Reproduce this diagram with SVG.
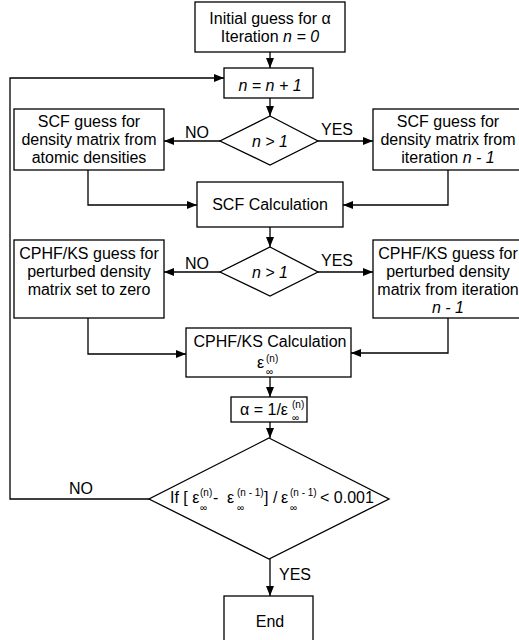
<svg xmlns="http://www.w3.org/2000/svg" width="519" height="640" viewBox="0 0 519 640">
<style>
.b{fill:#fff;stroke:#000;stroke-width:1.3}
.c{fill:none;stroke:#000;stroke-width:1.3}
text{font-family:"Liberation Sans",Arial,sans-serif;font-size:16px;fill:#000}
.m{text-anchor:middle}
.i{font-style:italic}
.s{font-size:10px}
</style>
<defs>
<marker id="a" markerUnits="userSpaceOnUse" markerWidth="10" markerHeight="10" viewBox="0 0 10 10" refX="10" refY="5" orient="auto">
<path d="M0,1 L10,5 L0,9 Z" fill="#000"/>
</marker>
</defs>
<rect width="519" height="640" fill="#fff"/>
<g id="connectors">
<path class="c" d="M270,52 V68" marker-end="url(#a)"/>
<path class="c" d="M270,98 V116" marker-end="url(#a)"/>
<path class="c" d="M220,141 H164" marker-end="url(#a)"/>
<path class="c" d="M318,141 H373" marker-end="url(#a)"/>
<path class="c" d="M88,170 V205 H197" marker-end="url(#a)"/>
<path class="c" d="M448,170 V205 H343" marker-end="url(#a)"/>
<path class="c" d="M270,227 V247" marker-end="url(#a)"/>
<path class="c" d="M220,272 H164" marker-end="url(#a)"/>
<path class="c" d="M318,272 H373" marker-end="url(#a)"/>
<path class="c" d="M88,318 V354 H186" marker-end="url(#a)"/>
<path class="c" d="M448,318 V353 H351" marker-end="url(#a)"/>
<path class="c" d="M270,377 V397" marker-end="url(#a)"/>
<path class="c" d="M270,422 V438" marker-end="url(#a)"/>
<path class="c" d="M149,499 H10 V78 H224" marker-end="url(#a)"/>
<path class="c" d="M270,559 V596" marker-end="url(#a)"/>
<text x="197" y="138" class="m">NO</text>
<text x="337" y="135" class="m">YES</text>
<text x="197" y="269" class="m">NO</text>
<text x="337" y="266" class="m">YES</text>
<text x="81" y="494" class="m">NO</text>
<text x="295" y="580" class="m">YES</text>
</g>
<g id="start">
<rect class="b" x="195" y="2" width="150" height="50"/>
<text x="270" y="24" class="m">Initial guess for α</text>
<text x="270" y="42" class="m">Iteration <tspan class="i">n = 0</tspan></text>
</g>
<g id="increment">
<rect class="b" x="224" y="68" width="89" height="30"/>
<text x="270" y="91" class="m i">n = n + 1</text>
</g>
<g id="decision1">
<path class="b" d="M270,116 L318,141 L270,165 L220,141 Z"/>
<text x="270" y="147" class="m i">n &gt; 1</text>
</g>
<g id="scf-guess-atomic">
<rect class="b" x="14" y="109" width="150" height="61"/>
<text x="89" y="127" class="m">SCF guess for</text>
<text x="89" y="145" class="m">density matrix from</text>
<text x="89" y="163" class="m">atomic densities</text>
</g>
<g id="scf-guess-iter">
<rect class="b" x="373" y="109" width="150" height="61"/>
<text x="448" y="127" class="m">SCF guess for</text>
<text x="448" y="145" class="m">density matrix from</text>
<text x="448" y="163" class="m">iteration <tspan class="i">n - 1</tspan></text>
</g>
<g id="scf-calc">
<rect class="b" x="197" y="182" width="146" height="45"/>
<text x="270" y="210" class="m">SCF Calculation</text>
</g>
<g id="decision2">
<path class="b" d="M270,247 L318,272 L270,296 L220,272 Z"/>
<text x="270" y="278" class="m i">n &gt; 1</text>
</g>
<g id="cphf-guess-zero">
<rect class="b" x="14" y="240" width="150" height="78"/>
<text x="89" y="259" class="m">CPHF/KS guess for</text>
<text x="89" y="277" class="m">perturbed density</text>
<text x="89" y="295" class="m">matrix set to zero</text>
</g>
<g id="cphf-guess-iter">
<rect class="b" x="373" y="240" width="150" height="78"/>
<text x="448" y="259" class="m">CPHF/KS guess for</text>
<text x="448" y="277" class="m">perturbed density</text>
<text x="448" y="295" class="m">matrix from iteration</text>
<text x="448" y="313" class="m i">n - 1</text>
</g>
<g id="cphf-calc">
<rect class="b" x="186" y="328" width="165" height="49"/>
<text x="270" y="347" class="m">CPHF/KS Calculation</text>
<text x="257" y="368">ε</text>
<text x="266" y="362" class="s">(n)</text>
<text x="266" y="375" class="s">∞</text>
</g>
<g id="alpha">
<rect class="b" x="231" y="397" width="76" height="25"/>
<text x="240" y="415">α = 1/ε</text>
<text x="292" y="408" class="s">(n)</text>
<text x="292" y="421" class="s">∞</text>
</g>
<g id="decision3">
<path class="b" d="M269,438 L389,499 L269,559 L149,499 Z"/>
<text x="170" y="503">If [ ε</text>
<text x="200" y="496" class="s">(n)</text>
<text x="200" y="511" class="s">∞</text>
<text x="213" y="503">-</text>
<text x="227" y="503">ε</text>
<text x="237" y="496" class="s">(n - 1)</text>
<text x="237" y="511" class="s">∞</text>
<text x="264" y="503">] /</text>
<text x="281" y="503">ε</text>
<text x="290" y="496" class="s">(n - 1)</text>
<text x="290" y="511" class="s">∞</text>
<text x="320" y="503">&lt; 0.001</text>
</g>
<g id="end">
<rect class="b" x="224" y="596" width="89" height="60"/>
<text x="270" y="627" class="m">End</text>
</g>
</svg>
